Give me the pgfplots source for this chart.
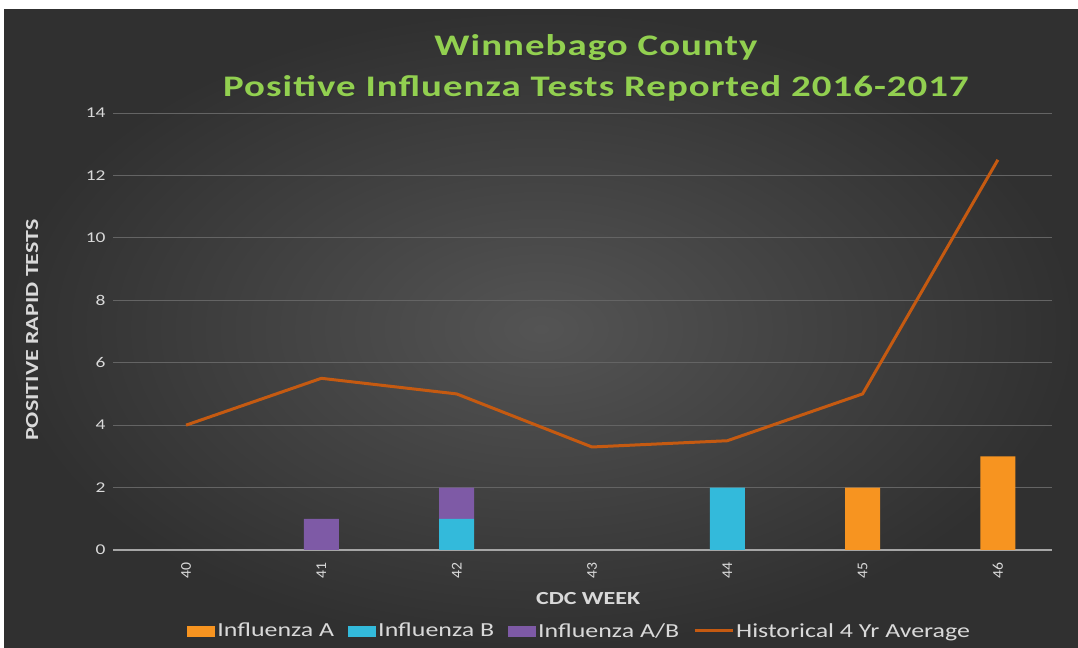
\documentclass[border=0pt]{standalone}
\usepackage{pgfplots}
\pgfplotsset{compat=1.18}
\usepackage{fontspec}
\setmainfont{Carlito}[FakeStretch=1.3]
\newfontfamily\titlefont{Carlito}[FakeStretch=1.3, LetterSpace=3.5]
\newfontfamily\plainfont{Carlito}[FakeStretch=1.05]
\definecolor{bgin}{RGB}{84,84,84}
\definecolor{bgout}{RGB}{48,48,48}
\definecolor{titlec}{RGB}{146,208,80}
\definecolor{txt}{RGB}{217,217,217}
\definecolor{gridc}{RGB}{100,100,100}
\definecolor{infa}{RGB}{247,148,32}
\definecolor{infb}{RGB}{51,186,219}
\definecolor{infab}{RGB}{126,90,166}
\definecolor{hist}{RGB}{197,90,17}
\begin{document}
\begin{tikzpicture}[x=1bp,y=1bp]
\fill[white] (0,0) rectangle (1078,648);
\shade[inner color=bgin, outer color=bgout] (4,0) rectangle (1078,638);
\node[text=black!80, font=\titlefont\fontsize{30}{34}\selectfont\bfseries] at (597.5,598.5) {Winnebago County};
\node[text=titlec, font=\titlefont\fontsize{30}{34}\selectfont\bfseries] at (596,600) {Winnebago County};
\node[text=black!80, font=\titlefont\fontsize{30}{34}\selectfont\bfseries] at (597.5,558.5) {Positive Influenza Tests Reported 2016-2017};
\node[text=titlec, font=\titlefont\fontsize{30}{34}\selectfont\bfseries] at (596,560) {Positive Influenza Tests Reported 2016-2017};
\begin{axis}[
  at={(113bp,98bp)}, anchor=south west,
  scale only axis, width=939bp, height=437bp,
  ybar stacked, bar width=35bp,
  xmin=39.46, xmax=46.4, ymin=0, ymax=14,
  xtick={40,41,42,43,44,45,46},
  ytick={0,2,4,6,8,10,12,14},
  /pgf/number format/assume math mode=true,
  ymajorgrids, grid style={draw=gridc, line width=0.8bp},
  axis x line*=bottom, axis y line*=left,
  x axis line style={-, draw=gray!70, line width=1.2bp},
  y axis line style={draw=none},
  major tick length=0pt,
  tick label style={text=txt, font=\fontsize{15}{18}\selectfont},
  xticklabel style={rotate=90, anchor=east, xshift=-9bp, font=\plainfont\fontsize{15}{18}\selectfont},
  yticklabel style={xshift=-4bp},
  xlabel={CDC WEEK},
  ylabel={POSITIVE RAPID TESTS},
  label style={text=txt, font=\fontsize{18.5}{21}\selectfont\bfseries},
  xlabel style={at={(axis description cs:0.506,-0.11)}, anchor=center},
  ylabel style={at={(axis description cs:-0.086,0.503)}, anchor=center, rotate=0},
  legend columns=4,
  legend style={at={(axis description cs:0.497,-0.185)}, anchor=center,
    draw=none, fill=none, text=txt, font=\fontsize{20}{23}\selectfont,
    /tikz/every even column/.append style={column sep=12bp}},
  legend cell align=left,
]
\addplot[fill=infa, draw=none, legend image code/.code={\fill[infa] (0,-6bp) rectangle (28bp,5bp);}]
  coordinates {(40,0)(41,0)(42,0)(43,0)(44,0)(45,2)(46,3)};
\addlegendentry{Influenza A}
\addplot[fill=infb, draw=none, legend image code/.code={\fill[infb] (0,-6bp) rectangle (28bp,5bp);}]
  coordinates {(40,0)(41,0)(42,1)(43,0)(44,2)(45,0)(46,0)};
\addlegendentry{Influenza B}
\addplot[fill=infab, draw=none, legend image code/.code={\fill[infab] (0,-6bp) rectangle (28bp,5bp);}]
  coordinates {(40,0)(41,1)(42,1)(43,0)(44,0)(45,0)(46,0)};
\addlegendentry{Influenza A/B}
\addplot[sharp plot, stack plots=false, draw=hist, line width=3bp, mark=none,
  legend image code/.code={\draw[hist, line width=3bp] (0,0) -- (38bp,0);}]
  coordinates {(40,4)(41,5.5)(42,5)(43,3.3)(44,3.5)(45,5)(46,12.5)};
\addlegendentry{Historical 4 Yr Average}
\end{axis}
\end{tikzpicture}
\end{document}
